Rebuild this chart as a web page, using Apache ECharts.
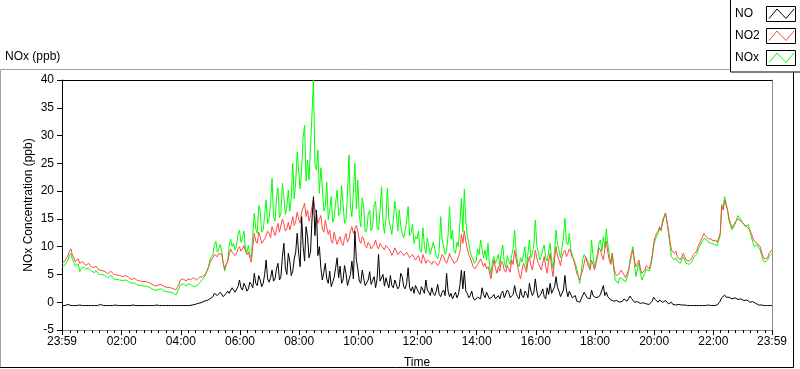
<!DOCTYPE html>
<html><head><meta charset="utf-8">
<script src="https://cdn.jsdelivr.net/npm/echarts@6/dist/echarts.min.js"></script>
<style>html,body{margin:0;padding:0;background:#fff;}#c{width:800px;height:369px;}</style>
</head><body><div id="c"></div>
<script>
// Sampling: one value every 3 minutes from 23:59 (minute -1) to 23:59 (minute 1439); 20 values per hour row
const startMinute = -1;
const stepMinutes = 3;

const seriesNames = ['NO', 'NO2', 'NOx'];

// NO2 (ppb)
const no2 = [
  7.0, 6.8, 7.4, 7.9, 8.3, 9.2, 9.6, 8.5, 8.0, 7.3, 7.6, 7.8, 7.0, 6.9, 7.3, 7.0, 6.6, 6.9, 7.0, 6.6,
  6.4, 6.2, 6.0, 6.5, 6.3, 5.8, 5.6, 5.7, 5.9, 5.5, 5.3, 5.1, 5.0, 5.6, 5.4, 5.0, 4.8, 4.9, 5.0, 4.8,
  4.7, 4.6, 4.5, 4.8, 4.9, 4.5, 4.3, 4.1, 4.0, 4.3, 4.2, 3.9, 3.7, 3.8, 4.0, 3.7, 3.5, 3.7, 3.6, 3.5,
  3.5, 3.2, 3.0, 2.9, 2.8, 3.1, 3.3, 3.2, 3.1, 2.8, 2.6, 2.7, 2.8, 2.6, 2.4, 2.5, 2.3, 2.2, 2.5, 3.2,
  4.0, 4.3, 4.2, 3.9, 3.8, 4.2, 4.4, 4.1, 4.0, 4.4, 4.6, 4.0, 4.3, 4.5, 4.4, 4.6, 4.8, 5.1, 5.6, 6.2,
  7.0, 7.6, 8.0, 8.6, 8.4, 8.2, 8.8, 9.0, 8.6, 7.0, 6.0, 6.8, 7.4, 8.6, 9.6, 9.0, 9.2, 8.4, 8.8, 9.6,
  10.0, 9.2, 9.6, 10.2, 9.2, 8.6, 9.0, 8.0, 7.2, 10.0, 12.4, 11.0, 10.6, 12.6, 11.8, 10.6, 10.4, 11.4, 12.0, 12.8,
  12.4, 11.6, 13.6, 12.8, 12.0, 13.0, 14.2, 12.6, 12.8, 15.0, 14.2, 12.8, 13.2, 14.4, 13.0, 14.0, 15.4, 13.8, 14.6, 16.2,
  15.0, 14.2, 16.2, 17.0, 17.8, 15.4, 16.6, 14.6, 15.6, 17.2, 18.4, 16.8, 16.0, 14.2, 14.4, 15.6, 13.2, 12.6, 14.8, 13.4,
  12.2, 13.0, 11.0, 10.6, 12.6, 11.4, 10.4, 11.2, 11.8, 10.6, 10.2, 11.6, 12.4, 10.8, 11.4, 12.8, 13.6, 12.4, 12.2, 13.8,
  12.8, 11.2, 10.6, 11.8, 11.4, 10.2, 9.8, 10.8, 10.4, 9.6, 10.0, 10.4, 11.2, 10.0, 9.6, 10.6, 10.8, 9.8, 9.4, 10.2,
  10.0, 9.6, 9.2, 8.4, 9.0, 9.8, 9.6, 8.6, 8.8, 9.2, 9.4, 8.4, 8.2, 9.0, 8.8, 8.0, 7.8, 8.6, 8.4, 7.6,
  8.0, 8.4, 7.4, 7.0, 8.6, 7.8, 7.0, 7.6, 7.8, 7.2, 6.8, 7.4, 7.6, 7.0, 6.6, 7.0, 7.2, 8.6, 8.2, 7.4,
  7.0, 7.8, 8.8, 8.0, 7.6, 7.0, 6.8, 7.4, 7.6, 9.0, 12.2, 10.6, 12.8, 11.0, 9.6, 8.6, 8.0, 7.2, 6.4, 6.0,
  5.8, 6.8, 6.6, 7.8, 7.6, 6.4, 7.0, 6.0, 6.4, 5.4, 4.2, 6.0, 7.6, 6.2, 5.2, 6.4, 5.6, 7.4, 7.0, 5.8,
  5.4, 6.6, 6.0, 5.4, 7.6, 6.8, 9.4, 7.8, 6.4, 5.2, 4.2, 5.8, 7.0, 6.2, 5.4, 7.2, 8.2, 6.6, 5.8, 7.6,
  9.4, 8.0, 7.0, 6.4, 5.8, 7.0, 8.2, 6.4, 5.2, 7.4, 8.8, 6.2, 4.6, 7.8, 10.0, 8.4, 7.6, 6.6, 8.2, 9.0,
  9.4, 8.2, 8.8, 9.6, 9.0, 8.0, 7.6, 6.4, 5.2, 4.6, 4.0, 5.0, 5.8, 7.0, 8.2, 7.2, 6.4, 5.8, 7.6, 6.8,
  5.8, 7.0, 8.2, 9.8, 9.4, 8.4, 7.6, 9.6, 11.0, 9.0, 7.6, 6.8, 8.8, 6.6, 5.2, 4.8, 4.6, 5.2, 5.8, 5.4,
  5.2, 4.4, 4.6, 5.8, 7.0, 8.4, 9.4, 7.6, 6.4, 6.8, 7.6, 6.2, 5.2, 5.4, 5.8, 6.6, 6.4, 6.0, 7.0, 8.4,
  10.6, 11.8, 12.4, 12.8, 13.6, 13.0, 14.2, 15.2, 16.0, 14.6, 13.0, 11.0, 9.4, 9.2, 8.8, 9.2, 8.2, 8.0, 7.6, 8.2,
  8.8, 8.2, 7.6, 7.8, 7.4, 7.6, 8.0, 8.6, 8.8, 9.2, 10.0, 10.6, 11.2, 11.8, 12.4, 12.0, 11.8, 11.4, 11.2, 11.4,
  11.0, 11.2, 11.2, 10.8, 10.6, 12.4, 17.2, 16.6, 18.4, 17.4, 16.6, 15.0, 14.2, 13.4, 13.6, 14.4, 14.2, 15.0, 14.8, 14.6,
  14.5, 14.0, 14.2, 13.6, 13.6, 13.0, 12.4, 11.6, 11.0, 10.8, 10.6, 10.4, 10.0, 9.0, 8.2, 7.8, 7.6, 8.0, 8.8, 9.0, 9.4
];

// NOx (ppb)
const nox = [
  6.3, 6.0, 6.7, 7.1, 7.5, 8.4, 8.8, 7.8, 7.2, 6.5, 6.6, 6.9, 5.5, 6.0, 6.4, 6.2, 6.0, 6.3, 6.1, 5.8,
  5.6, 5.4, 5.3, 5.7, 5.5, 5.0, 4.9, 5.0, 5.1, 4.8, 4.6, 4.4, 4.3, 4.9, 4.7, 4.2, 4.0, 4.1, 4.3, 4.0,
  4.0, 3.9, 3.7, 4.0, 4.1, 3.7, 3.5, 3.4, 3.3, 3.5, 3.4, 3.1, 2.9, 3.0, 3.2, 2.9, 2.7, 2.9, 2.8, 2.7,
  2.6, 2.4, 2.2, 2.1, 2.0, 2.3, 2.5, 2.4, 2.3, 2.0, 1.8, 1.9, 2.0, 1.8, 1.6, 1.7, 1.4, 1.3, 1.6, 2.4,
  3.1, 3.4, 3.3, 3.0, 2.9, 3.3, 3.5, 3.2, 3.1, 2.8, 2.6, 2.9, 3.1, 3.5, 3.7, 4.1, 4.5, 4.9, 5.0, 6.4,
  7.6, 8.2, 8.6, 10.2, 11.0, 9.0, 9.6, 10.4, 9.2, 7.0, 5.6, 6.8, 7.2, 10.2, 11.4, 10.0, 10.6, 9.4, 10.2, 12.2,
  13.0, 10.8, 11.6, 12.8, 9.6, 9.0, 10.2, 8.6, 8.0, 12.2, 16.0, 13.2, 12.4, 17.4, 16.6, 12.6, 13.0, 15.6, 18.4, 14.2,
  15.0, 17.8, 22.3, 15.4, 14.6, 18.6, 20.6, 15.2, 16.0, 21.4, 19.0, 15.8, 17.2, 20.2, 16.4, 18.8, 25.0, 18.6, 21.6, 27.0,
  26.8, 20.4, 23.8, 29.6, 31.9, 21.8, 25.6, 22.0, 28.0, 33.8, 40.0, 24.6, 23.8, 27.4, 19.6, 24.2, 20.8, 16.4, 17.2, 21.6,
  14.8, 16.6, 19.0, 14.4, 15.2, 18.0, 20.2, 15.6, 16.0, 21.0, 17.8, 14.2, 14.8, 19.6, 26.5, 17.2, 15.4, 19.8, 25.0, 16.8,
  22.0, 15.6, 13.6, 18.8, 17.2, 12.6, 13.0, 15.8, 16.6, 12.8, 13.6, 17.6, 18.2, 13.4, 13.0, 16.4, 20.8, 14.6, 12.4, 15.0,
  20.5, 14.8, 13.6, 12.2, 14.8, 18.2, 16.0, 12.8, 16.6, 13.8, 12.4, 11.6, 13.0, 14.6, 17.2, 12.0, 12.4, 14.0, 10.6, 11.8,
  11.4, 12.8, 9.4, 9.0, 13.4, 10.2, 8.8, 11.6, 10.0, 8.6, 8.4, 10.8, 9.6, 8.4, 7.8, 9.2, 15.4, 11.2, 10.0, 8.6,
  9.4, 12.0, 17.2, 11.4, 13.0, 9.2, 8.8, 10.8, 10.0, 14.2, 18.7, 12.6, 20.4, 14.4, 12.0, 10.6, 9.0, 8.2, 7.6, 7.0,
  7.4, 9.6, 8.6, 11.2, 11.2, 8.0, 9.4, 7.6, 10.6, 6.6, 5.0, 7.4, 8.2, 7.0, 7.3, 8.6, 6.4, 9.0, 10.3, 7.2,
  6.2, 8.4, 7.4, 6.8, 8.4, 9.6, 13.0, 9.2, 7.0, 6.4, 8.0, 7.2, 8.6, 10.0, 6.0, 8.8, 11.2, 8.0, 8.8, 10.4,
  14.8, 10.2, 9.0, 7.6, 8.2, 9.4, 10.3, 8.0, 7.4, 9.0, 10.6, 7.6, 6.0, 9.2, 13.0, 10.4, 9.4, 8.0, 9.8, 11.6,
  15.1, 10.8, 10.3, 12.4, 9.4, 8.4, 8.6, 7.0, 6.0, 4.8, 3.4, 5.2, 7.6, 8.6, 8.8, 7.6, 7.0, 6.2, 11.2, 8.4,
  6.2, 7.4, 8.8, 10.6, 11.2, 9.2, 11.8, 9.8, 13.2, 10.4, 8.6, 7.0, 8.8, 6.0, 4.0, 3.8, 3.4, 4.4, 4.6, 4.2,
  4.0, 3.6, 3.4, 5.4, 7.6, 9.0, 10.0, 6.8, 4.6, 6.0, 7.0, 5.4, 4.0, 4.6, 5.2, 6.0, 5.8, 5.6, 6.4, 8.0,
  10.0, 11.2, 11.8, 12.4, 13.3, 12.8, 14.8, 15.4, 16.1, 14.4, 12.4, 10.4, 8.2, 8.0, 7.6, 8.0, 7.4, 7.2, 7.0, 7.6,
  8.2, 7.6, 7.0, 7.2, 6.8, 7.0, 7.4, 8.0, 8.2, 8.6, 9.4, 10.0, 10.6, 11.0, 11.5, 11.4, 11.2, 10.8, 10.6, 10.6,
  10.3, 10.4, 10.4, 10.2, 10.0, 12.0, 17.6, 16.8, 19.0, 17.8, 16.4, 14.6, 13.8, 13.0, 13.2, 14.0, 14.8, 15.6, 15.4, 14.8,
  14.8, 14.0, 13.6, 13.4, 14.0, 12.8, 11.8, 10.8, 10.0, 10.2, 10.4, 9.8, 9.4, 8.4, 7.6, 7.2, 7.0, 7.6, 8.2, 8.4, 8.8
];

// NO (ppb)
const no = [
  -0.6, -0.6, -0.6, -0.5, -0.4, -0.6, -0.6, -0.6, -0.6, -0.6, -0.6, -0.6, -0.5, -0.6, -0.6, -0.6, -0.6, -0.6, -0.6, -0.6,
  -0.6, -0.6, -0.6, -0.6, -0.6, -0.5, -0.4, -0.6, -0.6, -0.6, -0.6, -0.6, -0.6, -0.6, -0.6, -0.6, -0.5, -0.6, -0.6, -0.6,
  -0.6, -0.6, -0.6, -0.6, -0.6, -0.6, -0.6, -0.6, -0.5, -0.6, -0.6, -0.6, -0.6, -0.6, -0.6, -0.6, -0.6, -0.6, -0.6, -0.6,
  -0.6, -0.6, -0.6, -0.6, -0.5, -0.6, -0.6, -0.6, -0.6, -0.7, -0.6, -0.6, -0.6, -0.6, -0.6, -0.6, -0.6, -0.6, -0.6, -0.6,
  -0.6, -0.6, -0.6, -0.6, -0.6, -0.6, -0.6, -0.5, -0.5, -0.6, -0.4, -0.4, -0.2, -0.3, -0.1, 0.0, 0.2, 0.1, 0.3, 0.5,
  0.6, 0.8, 1.0, 1.6, 1.9, 1.2, 1.4, 1.8, 1.6, 1.0, 1.2, 1.6, 2.0, 1.6, 1.8, 2.6, 2.4, 1.8, 2.0, 2.8,
  4.0, 2.6, 2.2, 3.4, 2.9, 2.0, 2.4, 3.6, 3.2, 2.6, 5.2, 3.4, 3.0, 4.8, 4.0, 2.8, 3.4, 5.0, 7.6, 4.2,
  3.6, 4.4, 5.8, 3.8, 4.2, 6.0, 7.0, 4.0, 4.6, 8.2, 10.6, 6.2, 5.0, 8.8, 7.4, 4.8, 5.6, 7.8, 9.0, 12.4,
  8.8, 6.4, 15.4, 10.2, 7.4, 13.6, 11.8, 8.0, 9.0, 14.8, 19.0, 12.0, 16.6, 8.4, 10.0, 6.2, 4.0, 5.4, 7.0, 4.2,
  3.4, 5.6, 2.8, 3.6, 4.5, 6.2, 8.0, 4.4, 6.5, 3.4, 4.0, 6.6, 5.2, 3.0, 3.2, 5.0, 7.4, 4.2, 12.8, 7.6,
  6.0, 3.8, 3.4, 5.8, 4.2, 3.0, 2.8, 4.0, 5.5, 3.2, 3.0, 4.6, 2.6, 4.2, 8.6, 3.8, 3.6, 5.0, 2.9, 4.4,
  3.4, 2.6, 4.8, 3.0, 2.6, 4.0, 3.8, 2.4, 2.8, 5.2, 4.6, 2.8, 2.4, 3.4, 6.2, 2.6, 2.0, 2.8, 1.6, 3.0,
  2.4, 1.8, 1.4, 2.8, 2.2, 1.6, 4.0, 2.2, 1.8, 1.2, 2.6, 1.6, 1.2, 2.0, 3.2, 1.4, 1.0, 1.8, 2.2, 1.2,
  5.2, 2.0, 1.0, 1.6, 0.6, 1.2, 1.8, 0.8, 1.4, 3.0, 5.8, 2.4, 5.6, 2.0, 1.6, 0.8, 1.2, 2.0, 0.8, 0.4,
  0.5, 0.9, 1.2, 0.6, 2.6, 1.4, 0.8, 1.8, 1.6, 0.6, 0.3, 1.0, 1.4, 0.6, 0.4, 1.2, 0.6, 1.6, 2.0, 0.8,
  1.0, 2.2, 1.8, 0.8, 0.6, 1.4, 3.0, 1.6, 1.0, 0.6, 2.4, 1.2, 0.8, 2.0, 1.6, 0.8, 3.4, 2.0, 1.2, 1.8,
  4.2, 2.0, 0.8, 1.2, 1.6, 2.4, 1.0, 0.6, 2.6, 1.4, 3.4, 1.6, 1.4, 2.8, 4.6, 2.6, 2.0, 1.0, 1.2, 2.2,
  4.8, 2.2, 1.0, 2.0, 1.8, 0.8, 0.6, 1.2, 0.2, 0.4, 0.0, 0.6, 0.8, 1.8, 1.6, 0.8, 1.0, 0.6, 2.2, 1.2,
  1.2, 0.8, 0.6, 1.0, 1.4, 2.2, 3.0, 1.2, 1.8, 1.0, 0.8, 0.4, 0.6, 0.2, 0.0, 0.3, 0.4, 0.0, -0.1, 0.2,
  0.6, 0.3, 0.2, 0.6, 1.1, 0.7, 0.4, 0.0, -0.2, 0.1, 0.0, -0.2, -0.4, -0.1, 0.1, -0.3, -0.5, -0.4, -0.3, 0.2,
  0.9, 0.5, 0.2, 0.0, 0.4, 0.1, 0.0, -0.2, 0.3, 0.0, -0.3, -0.2, 0.0, -0.4, -0.5, -0.5, -0.5, -0.4, -0.5, -0.5,
  -0.5, -0.5, -0.6, -0.6, -0.5, -0.6, -0.6, -0.6, -0.6, -0.6, -0.5, -0.6, -0.6, -0.6, -0.6, -0.6, -0.5, -0.5, -0.6, -0.6,
  -0.5, -0.6, -0.5, -0.5, -0.5, 0.2, 0.8, 0.6, 1.3, 0.9, 0.7, 0.9, 1.0, 0.6, 0.5, 0.8, 0.7, 0.5, 0.4, 0.6,
  0.5, 0.3, 0.2, 0.4, 0.3, 0.0, -0.1, 0.1, 0.2, -0.2, -0.4, -0.5, -0.5, -0.5, -0.5, -0.6, -0.6, -0.6, -0.6, -0.6, -0.6
];

// X axis tick labels (minutes since midnight -> label)
const labelMinutes = [-1, 120, 240, 360, 480, 600, 720, 840, 960, 1080, 1200, 1320, 1439];
const tickLabels = ['23:59', '02:00', '04:00', '06:00', '08:00', '10:00', '12:00', '14:00', '16:00', '18:00', '20:00', '22:00', '23:59'];
const majorTickMinutes = [-1, 0, 120, 240, 360, 480, 600, 720, 840, 960, 1080, 1200, 1320, 1439];
const minorTickMinutes = [];
for (let m = 15; m < 1439; m += 15) { if (m % 120 !== 0) minorTickMinutes.push(m); }

function pairs(arr) { return arr.map((v, i) => [startMinute + i * stepMinutes, v]); }

const FONT = "'Liberation Sans', Arial, sans-serif";
const XMIN = -1, XMAX = 1439;
const RED = '#ff4848', GREEN = '#00ff00', BLACK = '#000000';

const chart = echarts.init(document.getElementById('c'), null, { renderer: 'canvas' });

function swatch(y, color) {
  return [
    { type: 'rect', shape: { x: 766.5, y: y, width: 29, height: 15 }, style: { fill: '#fff', stroke: '#000', lineWidth: 1 }, z: 10 },
    { type: 'polyline', shape: { points: [[769, y + 12], [777, y + 2.5], [786, y + 12], [794, y + 2.5]] }, style: { stroke: color, lineWidth: 1, fill: null }, z: 11 }
  ];
}

chart.setOption({
  animation: false,
  backgroundColor: '#fff',
  textStyle: { fontFamily: FONT },
  grid: [{ left: 62, top: 80, width: 710, height: 250, outerBoundsMode: 'none', containLabel: false }],
  xAxis: [
    {
      type: 'value', min: XMIN, max: XMAX, position: 'bottom',
      name: 'Time', nameLocation: 'middle', nameGap: 27, nameMoveOverlap: false,
      nameTextStyle: { color: '#000', fontSize: 12, fontFamily: FONT },
      axisLine: { show: true, onZero: false, lineStyle: { color: '#8c8c8c', width: 1 } },
      axisTick: { show: true, customValues: majorTickMinutes, length: 5, lineStyle: { color: '#000', width: 1 } },
      axisLabel: {
        show: true, customValues: labelMinutes, margin: 6, color: '#000', fontSize: 12, fontFamily: FONT,
        formatter: v => tickLabels[labelMinutes.indexOf(v)]
      },
      splitLine: { show: false }
    },
    {
      type: 'value', min: XMIN, max: XMAX, position: 'bottom',
      axisLine: { show: false, onZero: false },
      axisTick: { show: true, customValues: minorTickMinutes, length: 3, lineStyle: { color: '#000', width: 1 } },
      axisLabel: { show: false },
      splitLine: { show: false }
    },
    {
      type: 'value', min: XMIN, max: XMAX, position: 'top',
      axisLine: { show: true, onZero: false, lineStyle: { color: '#000', width: 1 } },
      axisTick: { show: false }, axisLabel: { show: false }, splitLine: { show: false }
    }
  ],
  yAxis: [
    {
      type: 'value', min: -5, max: 40, interval: 5, position: 'left',
      name: 'NOx Concentration (ppb)', nameLocation: 'middle', nameGap: 27, nameRotate: 90, nameMoveOverlap: false,
      nameTextStyle: { color: '#000', fontSize: 12, fontFamily: FONT },
      axisLine: { show: true, onZero: false, lineStyle: { color: '#000', width: 1 } },
      axisTick: { show: true, length: 5, lineStyle: { color: '#000' } },
      axisLabel: { show: true, margin: 8, color: '#000', fontSize: 12, fontFamily: FONT },
      splitLine: { show: false }
    },
    {
      type: 'value', min: -5, max: 40, interval: 5, position: 'right',
      axisLine: { show: true, onZero: false, lineStyle: { color: '#8c8c8c', width: 1 } },
      axisTick: { show: false }, axisLabel: { show: false }, splitLine: { show: false }
    }
  ],
  series: [
    { name: 'NOx', type: 'line', data: pairs(nox), xAxisIndex: 0, yAxisIndex: 0, symbol: 'none', lineStyle: { color: GREEN, width: 1 }, itemStyle: { color: GREEN }, z: 2 },
    { name: 'NO2', type: 'line', data: pairs(no2), xAxisIndex: 0, yAxisIndex: 0, symbol: 'none', lineStyle: { color: RED, width: 1 }, itemStyle: { color: RED }, z: 3 },
    { name: 'NO', type: 'line', data: pairs(no), xAxisIndex: 0, yAxisIndex: 0, symbol: 'none', lineStyle: { color: BLACK, width: 1 }, itemStyle: { color: BLACK }, z: 4 }
  ],
  graphic: [
    { type: 'text', left: 5, top: 51, style: { text: 'NOx (ppb)', fill: '#000', font: '12px ' + FONT } },
    // outer panel frame
    { type: 'polyline', shape: { points: [[0.5, 367], [0.5, 69.5], [730, 69.5]] }, style: { stroke: '#a0a0a0', lineWidth: 1, fill: null } },
    { type: 'polyline', shape: { points: [[0, 367.5], [793.5, 367.5], [793.5, 72]] }, style: { stroke: '#000', lineWidth: 1, fill: null } },
    // legend box
    { type: 'rect', shape: { x: 730.5, y: -1, width: 70, height: 73 }, style: { fill: '#fff', stroke: '#000', lineWidth: 1 }, z: 9 },
    { type: 'text', left: 735, top: 8, z: 10, style: { text: seriesNames[0], fill: '#000', font: '12px ' + FONT } },
    { type: 'text', left: 735, top: 30, z: 10, style: { text: seriesNames[1], fill: '#000', font: '12px ' + FONT } },
    { type: 'text', left: 735, top: 52, z: 10, style: { text: seriesNames[2], fill: '#000', font: '12px ' + FONT } },
    ...swatch(6.5, BLACK),
    ...swatch(28.5, RED),
    ...swatch(50.5, GREEN)
  ]
});
</script></body></html>
